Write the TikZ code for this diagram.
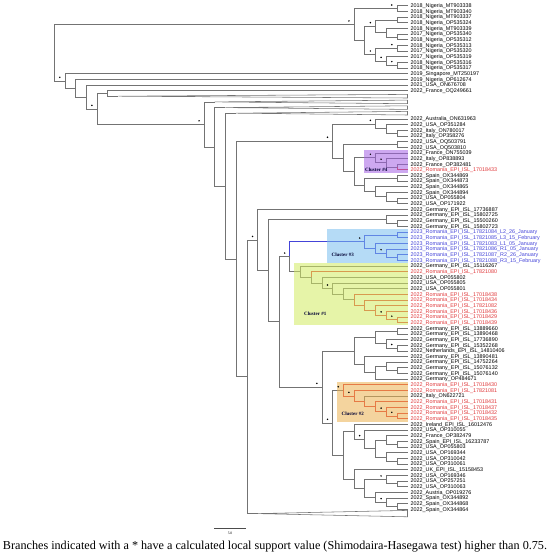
\documentclass[tikz,border=0pt]{standalone}
\usepackage{fontspec}
\usepackage{graphicx}
\setmainfont{Liberation Serif}
\newfontfamily\labfont{Liberation Sans}
\usetikzlibrary{calc}
\definecolor{rom}{HTML}{E0393B}
\definecolor{blu}{HTML}{4444D8}
\definecolor{cfour}{HTML}{A461E4}
\definecolor{cthree}{HTML}{78BEEE}
\definecolor{cone}{HTML}{D2EB61}
\definecolor{ctwo}{HTML}{EBB14F}
\tikzset{br/.style={draw=black!55,line width=0.55pt},
 lbl/.style={anchor=base west,inner sep=0pt,font=\labfont\fontsize{5.4}{6}\selectfont},
 clab/.style={anchor=west,inner sep=0pt,font=\bfseries\fontsize{5}{6}\selectfont,text=black!80!blue},
 cbox/.style={fill opacity=0.55,draw=none}}
\newcommand\lf[4][black]{\coordinate (#2) at (407.5,{5.7+(#3-1)*5.657});
 \node[lbl,text=#1] at ($(#2)+(3,1.9)$) {#4};}
\newcommand\tn[6]{\path let \p1=($(#3)!.5!(#4)$) in coordinate (#1) at ({407.5pt-10.71pt*#2},\y1);
 \draw[br,#5] (#1) |- (#3); \draw[br,#6] (#1) |- (#4);}
\newcommand\tri[4]{\coordinate (#1) at ({407.5-10.71*#3},#2);
 \draw[br,line join=miter] (#1) -- (407.5,{#2-#4}) -- (407.5,{#2+#4}) -- cycle;}
\newcommand\sx[1]{\fill ($(#1)+(-5,-3.5)$) circle (0.85pt);}
\begin{document}
\begin{tikzpicture}[x=1pt,y=-1pt]
\useasboundingbox (0,0) rectangle (550,555);
% leaves
\lf{s1}{1}{2018\_Nigeria\_MT903338}
\lf{s2}{2}{2018\_Nigeria\_MT903340}
\lf{s3}{3}{2018\_Nigeria\_MT903337}
\lf{s4}{4}{2018\_Nigeria\_OP535324}
\lf{s5}{5}{2018\_Nigeria\_MT903339}
\lf{s6}{6}{2017\_Nigeria\_OP535340}
\lf{s7}{7}{2018\_Nigeria\_OP535312}
\lf{s8}{8}{2018\_Nigeria\_OP535313}
\lf{s9}{9}{2017\_Nigeria\_OP535320}
\lf{s10}{10}{2017\_Nigeria\_OP535319}
\lf{s11}{11}{2018\_Nigeria\_OP535316}
\lf{s12}{12}{2018\_Nigeria\_OP535317}
\lf{s13}{13}{2019\_Singapore\_MT250197}
\lf{s14}{14}{2019\_Nigeria\_OP612674}
\lf{s15}{15}{2021\_USA\_ON676708}
\lf{s16}{16}{2022\_France\_OQ249661}
\lf{s21}{21}{2022\_Australia\_ON631963}
\lf{s22}{22}{2022\_USA\_OP351284}
\lf{s23}{23}{2022\_Italy\_ON780017}
\lf{s24}{24}{2022\_Italy\_OP358276}
\lf{s25}{25}{2022\_USA\_OQ503791}
\lf{s26}{26}{2022\_USA\_OQ503810}
\lf{s27}{27}{2022\_France\_ON755039}
\lf{s28}{28}{2022\_Italy\_OP838893}
\lf{s29}{29}{2022\_France\_OP382481}
\lf[rom]{s30}{30}{2022\_Romania\_EPI\_ISL\_17018433}
\lf{s31}{31}{2022\_Spain\_OX344869}
\lf{s32}{32}{2022\_Spain\_OX344873}
\lf{s33}{33}{2022\_Spain\_OX344865}
\lf{s34}{34}{2022\_Spain\_OX344894}
\lf{s35}{35}{2022\_USA\_OP055804}
\lf{s36}{36}{2022\_USA\_OP171922}
\lf{s37}{37}{2022\_Germany\_EPI\_ISL\_17736887}
\lf{s38}{38}{2022\_Germany\_EPI\_ISL\_15802725}
\lf{s39}{39}{2022\_Germany\_EPI\_ISL\_15500260}
\lf{s40}{40}{2022\_Germany\_EPI\_ISL\_15802723}
\lf[blu]{s41}{41}{2023\_Romania\_EPI\_ISL\_17821084\_L2\_26\_January}
\lf[blu]{s42}{42}{2023\_Romania\_EPI\_ISL\_17821085\_L3\_15\_February}
\lf[blu]{s43}{43}{2023\_Romania\_EPI\_ISL\_17821083\_L1\_05\_January}
\lf[blu]{s44}{44}{2023\_Romania\_EPI\_ISL\_17821086\_R1\_05\_January}
\lf[blu]{s45}{45}{2023\_Romania\_EPI\_ISL\_17821087\_R2\_26\_January}
\lf[blu]{s46}{46}{2023\_Romania\_EPI\_ISL\_17821088\_R3\_15\_February}
\lf{s47}{47}{2022\_Germany\_EPI\_ISL\_15116267}
\lf[rom]{s48}{48}{2022\_Romania\_EPI\_ISL\_17821080}
\lf{s49}{49}{2022\_USA\_OP055802}
\lf{s50}{50}{2022\_USA\_OP055805}
\lf{s51}{51}{2022\_USA\_OP055801}
\lf[rom]{s52}{52}{2022\_Romania\_EPI\_ISL\_17018438}
\lf[rom]{s53}{53}{2022\_Romania\_EPI\_ISL\_17018434}
\lf[rom]{s54}{54}{2022\_Romania\_EPI\_ISL\_17821082}
\lf[rom]{s55}{55}{2022\_Romania\_EPI\_ISL\_17018436}
\lf[rom]{s56}{56}{2022\_Romania\_EPI\_ISL\_17018429}
\lf[rom]{s57}{57}{2022\_Romania\_EPI\_ISL\_17018439}
\lf{s58}{58}{2022\_Germany\_EPI\_ISL\_13889660}
\lf{s59}{59}{2022\_Germany\_EPI\_ISL\_13890468}
\lf{s60}{60}{2022\_Germany\_EPI\_ISL\_17736890}
\lf{s61}{61}{2022\_Germany\_EPI\_ISL\_15352268}
\lf{s62}{62}{2022\_Netherlands\_EPI\_ISL\_14810406}
\lf{s63}{63}{2022\_Germany\_EPI\_ISL\_13890481}
\lf{s64}{64}{2022\_Germany\_EPI\_ISL\_14752264}
\lf{s65}{65}{2022\_Germany\_EPI\_ISL\_15076132}
\lf{s66}{66}{2022\_Germany\_EPI\_ISL\_15076140}
\lf{s67}{67}{2022\_Germany\_OP484671}
\lf[rom]{s68}{68}{2022\_Romania\_EPI\_ISL\_17018430}
\lf[rom]{s69}{69}{2022\_Romania\_EPI\_ISL\_17821081}
\lf{s70}{70}{2022\_Italy\_ON622721}
\lf[rom]{s71}{71}{2022\_Romania\_EPI\_ISL\_17018431}
\lf[rom]{s72}{72}{2022\_Romania\_EPI\_ISL\_17018437}
\lf[rom]{s73}{73}{2022\_Romania\_EPI\_ISL\_17018432}
\lf[rom]{s74}{74}{2022\_Romania\_EPI\_ISL\_17018435}
\lf{s75}{75}{2022\_Ireland\_EPI\_ISL\_16012476}
\lf{s76}{76}{2022\_USA\_OP310055}
\lf{s77}{77}{2022\_France\_OP382479}
\lf{s78}{78}{2022\_Spain\_EPI\_ISL\_16233787}
\lf{s79}{79}{2022\_USA\_OP055803}
\lf{s80}{80}{2022\_USA\_OP169344}
\lf{s81}{81}{2022\_USA\_OP310042}
\lf{s82}{82}{2022\_USA\_OP310061}
\lf{s83}{83}{2022\_UK\_EPI\_ISL\_15158453}
\lf{s84}{84}{2022\_USA\_OP169346}
\lf{s85}{85}{2022\_USA\_OP257251}
\lf{s86}{86}{2022\_USA\_OP310063}
\lf{s87}{87}{2022\_Austria\_OP019276}
\lf{s88}{88}{2022\_Spain\_OX344892}
\lf{s89}{89}{2022\_Spain\_OX344868}
\lf{s90}{90}{2022\_Spain\_OX344864}
% collapsed clades
\tri{T1}{96.2}{27}{1.8}
\tri{T2}{101.9}{18}{1.8}
\tri{T3}{107.6}{17}{1.8}
\tri{T4}{113.2}{16}{1.8}
\tri{T5}{513.6}{14}{3.2}
% Nigeria clade
\tn{c12}{1}{s1}{s2}{}{}
\tn{ca}{1}{s3}{s4}{}{}
\tn{cb}{1}{s6}{s7}{}{}
\tn{cc}{2}{s5}{cb}{}{}
\tn{N3}{3}{ca}{cc}{}{}
\tn{c89}{1}{s8}{s9}{}{}
\tn{c1112}{1}{s11}{s12}{}{}
\tn{cd}{2}{s10}{c1112}{}{}
\tn{N4}{3}{c89}{cd}{}{}
\tn{N2}{4}{N3}{N4}{}{}
\tn{N1}{5}{c12}{N2}{}{}
% cluster 4 region
\tn{C}{1}{s23}{s24}{}{}
\tn{B}{2}{s22}{C}{}{}
\tn{A}{3}{s21}{B}{}{}
\tn{D}{1}{s25}{s26}{}{}
\tn{G}{1}{s29}{s30}{}{rom}
\tn{F}{2}{s28}{G}{}{}
\tn{E}{3}{s27}{F}{}{}
\tn{I}{1}{s31}{s32}{}{}
\tn{M}{1}{s35}{s36}{}{}
\tn{K}{2}{s34}{M}{}{}
\tn{J}{3}{s33}{K}{}{}
\tn{Nn}{4}{I}{J}{}{}
\tn{H}{5}{E}{Nn}{}{}
\tn{n342}{6}{D}{H}{}{}
\tn{n332}{7}{A}{n342}{}{}
% germany
\tn{g1}{1}{s39}{s40}{}{}
\tn{Gg}{2}{s38}{g1}{}{}
% cluster 3
\tn{q1}{1}{s41}{s42}{blu}{blu}
\tn{q5}{1}{s45}{s46}{blu}{blu}
\tn{Q4}{2}{s44}{q5}{blu}{blu}
\tn{Q3}{3}{s43}{Q4}{blu}{blu}
\tn{Q2}{4}{q1}{Q3}{blu}{blu}
% cluster 1
\tn{P11}{1}{s56}{s57}{rom}{rom}
\tn{P10}{2}{s55}{P11}{rom}{rom}
\tn{P9}{3}{s54}{P10}{rom}{rom}
\tn{P8}{4}{s53}{P9}{rom}{rom}
\tn{P7}{5}{s52}{P8}{rom}{rom}
\tn{P6}{6}{s51}{P7}{}{}
\tn{P5}{7}{s50}{P6}{}{}
\tn{P4}{8}{s49}{P5}{}{}
\tn{P3}{9}{s48}{P4}{rom}{}
\tn{P2}{10}{s47}{P3}{}{}
\tn{P1}{11}{Q2}{P2}{blu}{}
% germany group
\tn{sa}{1}{s58}{s59}{}{}
\tn{sb}{1}{s61}{s62}{}{}
\tn{S3}{2}{s60}{sb}{}{}
\tn{S2}{3}{sa}{S3}{}{}
\tn{sc}{1}{s65}{s66}{}{}
\tn{S7}{2}{s64}{sc}{}{}
\tn{S6}{3}{S7}{s67}{}{}
\tn{S5}{4}{s63}{S6}{}{}
\tn{S1}{5}{S2}{S5}{}{}
% cluster 2
\tn{V1}{1}{s73}{s74}{rom}{rom}
\tn{V2}{2}{s72}{V1}{rom}{rom}
\tn{V3}{3}{s71}{V2}{rom}{rom}
\tn{V4}{4}{s70}{V3}{}{rom}
\tn{V5}{5}{s69}{V4}{rom}{rom}
\tn{V}{6}{s68}{V5}{rom}{rom}
% bottom group
\tn{y1}{1}{s78}{s79}{}{}
\tn{Y}{2}{s77}{y1}{}{}
\tn{z1}{1}{s81}{s82}{}{}
\tn{Z}{2}{s80}{z1}{}{}
\tn{X}{3}{Y}{Z}{}{}
\tn{W2}{4}{s76}{X}{}{}
\tn{W1}{5}{s75}{W2}{}{}
\tn{w5}{1}{s85}{s86}{}{}
\tn{W5}{2}{s84}{w5}{}{}
\tn{w7}{1}{s89}{s90}{}{}
\tn{W7}{2}{s88}{w7}{}{}
\tn{W6}{3}{s87}{W7}{}{}
\tn{W4}{4}{W5}{W6}{}{}
\tn{W3}{5}{s83}{W4}{}{}
\tn{W}{6}{W1}{W3}{}{}
\tn{U}{7}{V}{W}{}{}
\tn{R}{8}{S1}{U}{}{}
% backbone
\tn{n278}{12}{P1}{R}{}{}
\tn{n268}{13}{Gg}{n278}{}{}
\tn{n257}{14}{s37}{n268}{}{}
\tn{n247}{15}{n257}{T5}{}{}
\tn{n236}{16}{n332}{n247}{}{}
\tn{n225}{17}{T4}{n236}{}{}
\tn{n214}{18}{T3}{n225}{}{}
\tn{n203}{19}{T2}{n214}{}{}
\tn{n107}{28}{s16}{T1}{}{}
\tn{n97}{29}{n107}{n203}{}{}
\tn{n86}{30}{s15}{n97}{}{}
\tn{n75}{31}{s14}{n86}{}{}
\tn{n64}{32}{s13}{n75}{}{}
\tn{root}{33}{N1}{n64}{}{}
% cluster boxes
\fill[cbox,cfour] (364,150) rectangle (408,172.7);
\fill[cbox,cthree] (326.7,229.3) rectangle (408,262.7);
\fill[cbox,cone] (294,263) rectangle (408,325);
\fill[cbox,ctwo] (336.7,382) rectangle (408,421.7);
\node[clab] (k4) at (365,170) {Cluster \#4};
\node[clab] (k3) at (331.5,254.7) {Cluster \#3};
\node[clab] (k1) at (304,314) {Cluster \#1};
\node[clab] (k2) at (341.5,413.3) {Cluster \#2};
% support marks
\foreach \n in {c12,N3,c89,c1112,cd,N4,N1,n64,n97,n203,n332,A,E,F,n257,P1,Q2,Q4,P5,P10,P11,R,sb,U,V,V5,V2,V1,W5,W7,W2}{\sx{\n}}
% scale bar
\draw[black!70,line width=0.5pt] (214.3,528.3) coordinate (sb1) -- (246,528.3) coordinate (sb2);
\node[font=\fontsize{3.6}{4}\selectfont,inner sep=0pt] (sbl) at (230,533) {5.0};
% caption
\node[inner sep=0pt] (cap) at (275,546.5) {\resizebox{544pt}{!}{Branches indicated with a * have a calculated local support value (Shimodaira-Hasegawa test) higher than 0.75.}};
\end{tikzpicture}
\end{document}
